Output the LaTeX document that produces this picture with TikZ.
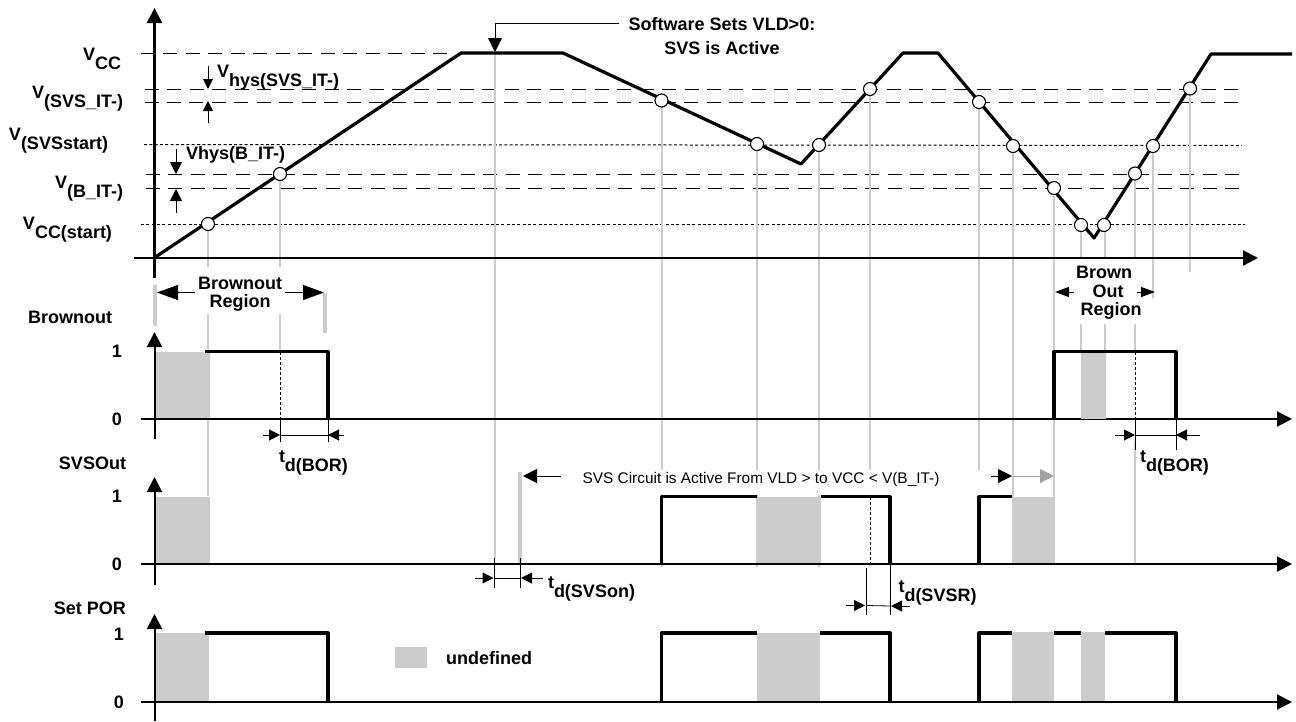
\documentclass[tikz,border=0pt]{standalone}
\usepackage{fontspec}
\setmainfont{Liberation Sans}
\usetikzlibrary{arrows.meta}
\definecolor{gr}{HTML}{CCCCCC}
\definecolor{grarrow}{HTML}{A0A0A0}
\tikzset{
 every node/.style={inner sep=0pt,outer sep=0pt},
 lab/.style={font=\fontsize{18}{21}\bfseries\selectfont},
 lv/.style={lab,anchor=base west},
 sig/.style={line width=3.2pt,line cap=butt,line join=round},
 curve/.style={line width=3.2pt,line join=round},
 guide/.style={gr,line width=2pt},
 guidet/.style={gr,line width=4pt},
 hdash/.style={line width=1pt,dash pattern=on 14pt off 8.48pt},
 hdot/.style={line width=1pt,dash pattern=on 3pt off 2.3pt},
 vdot/.style={line width=1pt,dash pattern=on 3pt off 2pt},
 bigtip/.style={-{Triangle[length=21pt,width=15pt]},line width=1pt},
 axtip/.style={-{Triangle[length=15pt,width=15pt]},line width=2pt},
 midtip/.style={-{Triangle[length=14pt,width=14pt]},line width=1pt},
 brtip/.style={-{Triangle[length=14pt,width=10pt]},line width=1pt},
 hyA/.style={-{Triangle[length=10pt,width=10pt]},line width=1pt},
 hyB/.style={-{Triangle[length=12pt,width=12pt]},line width=1pt},
 smalltip/.style={-{Triangle[length=11pt,width=11pt]},line width=1pt},
 dot/.style={circle,draw,fill=white,line width=1.1pt,minimum size=13pt},
 undef/.style={fill=gr},
 tk/.style={line width=0.8pt},
}
\newcommand{\sgnl}[2]{#1\raisebox{-9pt}{#2}}
\begin{document}
\begin{tikzpicture}[x=1pt,y=-1pt]
\useasboundingbox (0,0) rectangle (1296,721);
% horizontal reference lines
\coordinate (c1a) at (141,53); \coordinate (c1b) at (447,53);
\draw[hdash] (c1a) -- (c1b);
\coordinate (c2a) at (145,89.5); \coordinate (c2b) at (1238,89.5);
\draw[hdash] (c2a) -- (c2b);
\coordinate (c3a) at (144.5,102); \coordinate (c3b) at (1238,102);
\draw[hdash] (c3a) -- (c3b);
\coordinate (c4a) at (144,144.5); \coordinate (c4b) at (1241.5,145.5);
\draw[hdot] (c4a) -- (c4b);
\coordinate (c5a) at (146,174.5); \coordinate (c5b) at (1240,174.5);
\draw[hdash] (c5a) -- (c5b);
\coordinate (c6a) at (146,188.5); \coordinate (c6b) at (1240,188.5);
\draw[hdash] (c6a) -- (c6b);
\coordinate (c7a) at (141,224); \coordinate (c7b) at (1245,224);
\draw[hdot] (c7a) -- (c7b);
% guides
\foreach \x/\a/\b in {208/224/267,280/174/267,1081/224/258,1105/224/258,1135/174/258,1153/146/298,1190/89/272}
  \draw[guide] (\x,\a) -- (\x,\b);
\foreach \x/\a/\b in {208/314/496,280/314/352,495/53/558,661.5/100/567,757/144/567,819/144/567,870/89/497,979/102/497,1013/146/497,1054/188/564,1081/324/352,1105/324/352,1135/324/352,1135/441/564}
  \draw[guide] (\x,\a) -- (\x,\b);
\draw[guidet] (154.7,285) -- (154.7,326);
\draw[guidet] (324.5,293) -- (324.5,333);
\draw[guidet] (520,472) -- (520,564);
% undefined fills
\fill[undef] (155,351.7) rectangle (210,419);
\fill[undef] (155,496.7) rectangle (210,564);
\fill[undef] (155,633) rectangle (209,702);
\fill[undef] (757,496.7) rectangle (821,564);
\fill[undef] (1012,496.7) rectangle (1055,564);
\fill[undef] (757,633) rectangle (820,702);
\fill[undef] (1012,632) rectangle (1054,702);
\fill[undef] (1081,632) rectangle (1105,702);
\fill[undef] (395,647) rectangle (427,668);
% white text panel
\fill[white] (562,470) rectangle (990,495);
% axes
\coordinate (y0a) at (154.5,278); \coordinate (y0b) at (154.5,8);
\draw[axtip,line width=2.4pt] (y0a) -- (y0b);
\coordinate (x0a) at (134,258); \coordinate (x0b) at (1258,258);
\draw[axtip,line width=2.4pt] (x0a) -- (x0b);
\fill[white] (1074,259.5) rectangle (1137,324);
\foreach \n/\t/\b/\z in {a/332/439/419,b/477/585/564,c/614/721/702}{
  \coordinate (ya\n) at (154.5,\b); \coordinate (yb\n) at (154.5,\t);
  \draw[axtip] (ya\n) -- (yb\n);
  \coordinate (xa\n) at (141,\z); \coordinate (xb\n) at (1292,\z);
  \draw[axtip] (xa\n) -- (xb\n);
}
% main curve
\draw[curve] (154,258) -- (461,53) -- (563,53) -- (801,164) -- (903,53) -- (938,53) -- (1094,238) -- (1211,54) -- (1292,54);
\foreach \i/\x/\y in {1/208/224,2/280/174,3/661.5/100.5,4/757/144,5/819/145,6/870/89,7/979/102,8/1013/146,9/1054/188,10/1081/225,11/1104/225,12/1135/173.5,13/1153/146,14/1190/88.5}
  \node[dot] (p\i) at (\x,\y) {};
% signals
\draw[sig] (205,351.7) -- (328,351.7) -- (328,419);
\fill[undef] (1081,353.3) rectangle (1106,419);
\draw[sig] (1054,419) -- (1054,351.7) -- (1176,351.7) -- (1176,419);
\draw[sig] (661.5,564) -- (661.5,496.7) -- (757,496.7);
\draw[sig] (821,496.7) -- (890,496.7) -- (890,564);
\draw[sig] (979,564) -- (979,496.7) -- (1012,496.7);
\draw[sig] (205,633) -- (328,633) -- (328,702);
\draw[sig] (661.5,702) -- (661.5,633) -- (757,633);
\draw[sig] (820,633) -- (890,633) -- (890,702);
\draw[sig] (979,702) -- (979,633) -- (1012,633);
\draw[sig] (1054,633) -- (1081,633);
\draw[sig] (1105,633) -- (1176,633) -- (1176,702);
% dotted drops
\draw[vdot] (280,352) -- (280,419);
\draw[vdot] (1135,352) -- (1135,419);
\draw[vdot] (870,497) -- (870,564);
% brownout region arrows
\coordinate (r1a) at (195,292.5); \coordinate (r1b) at (157,292.5);
\draw[bigtip] (r1a) -- (r1b);
\coordinate (r2a) at (285,292.5); \coordinate (r2b) at (324,292.5);
\draw[bigtip] (r2a) -- (r2b);
\coordinate (r3a) at (1074,292); \coordinate (r3b) at (1055,292);
\draw[brtip] (r3a) -- (r3b);
\coordinate (r4a) at (1137,292); \coordinate (r4b) at (1155,292);
\draw[brtip] (r4a) -- (r4b);
% hysteresis arrows
\coordinate (h1a) at (208,66); \coordinate (h1b) at (208,89);
\draw[hyA] (h1a) -- (h1b);
\coordinate (h2a) at (208,123); \coordinate (h2b) at (208,101);
\draw[hyA] (h2a) -- (h2b);
\coordinate (h3a) at (176,149); \coordinate (h3b) at (176,174);
\draw[hyB] (h3a) -- (h3b);
\coordinate (h4a) at (176,213); \coordinate (h4b) at (176,189);
\draw[hyB] (h4a) -- (h4b);
% timing dimension: BOR
\foreach \n/\l/\r/\e/\f/\bt in {u/280/328/263/344/441.7,v/1135/1176/1115/1200/450}{
  \coordinate (\n t1) at (\l,419); \coordinate (\n t2) at (\l,\bt);
  \coordinate (\n t3) at (\r,419); \coordinate (\n t4) at (\r,\bt);
  \draw[tk] (\n t1) -- (\n t2); \draw[tk] (\n t3) -- (\n t4);
  \draw[tk] (\l,435) -- (\r,435);
  \draw[smalltip] (\e,435) -- (\l,435);
  \draw[smalltip] (\f,435) -- (\r,435);
}
% timing dimension: SVSon
\draw[tk] (494.5,558) -- (494.5,588); \draw[tk] (520,558) -- (520,588);
\draw[tk] (494.5,578) -- (520,578);
\draw[smalltip] (475,578) -- (493.5,578);
\draw[smalltip] (543,578) -- (521,578);
% timing dimension: SVSR
\draw[tk] (866,568) -- (866,615); \draw[tk] (890.5,564) -- (890.5,615);
\draw[tk] (866,605.5) -- (890.5,606);
\draw[smalltip] (846,605.5) -- (865,605.5);
\draw[smalltip] (910,606) -- (891,606);
% SVS circuit arrows
\coordinate (s1c) at (561,476); \coordinate (s1d) at (523,476);
\draw[midtip] (s1c) -- (s1d);
\coordinate (s2a) at (991,476); \coordinate (s2b) at (1012,476);
\draw[midtip] (s2a) -- (s2b);
\coordinate (s3a) at (1013,476); \coordinate (s3b) at (1054,476);
\draw[midtip,grarrow] (s3a) -- (s3b);
% software arrow
\coordinate (sw0) at (619,23); \coordinate (sw1) at (495,23); \coordinate (sw2) at (495,52);
\draw[midtip] (sw0) -- (sw1) -- (sw2);
% labels
\node[lab] (tsw1) at (722,24.5) {Software Sets VLD>0:};
\node[lab] (tsw2) at (722,48) {SVS is Active};
\node[lv] (l1) at (83,60.5) {\sgnl{V}{CC}};
\node[lv] (l2) at (32,98) {\sgnl{V}{(SVS\_IT-)}};
\node[lv] (l3) at (9,140.5) {\sgnl{V}{(SVSstart)}};
\node[lv] (l4) at (55,188) {\sgnl{V}{(B\_IT-)}};
\node[lv] (l5) at (23,229.5) {\sgnl{V}{CC(start)}};
\node[lv] (l6) at (217,77) {\sgnl{V}{hys(SVS\_IT-)}};
\node[lv] (l7) at (186,159) {Vhys(B\_IT-)};
\node[lab] (b1) at (240,283) {Brownout};
\node[lab] (b2) at (240,303) {Region};
\node[lab] (b3) at (1104,272) {Brown};
\node[lab] (b4) at (1108,291) {Out};
\node[lab] (b5) at (1111,311) {Region};
\node[lab,anchor=east] (n1) at (112,317.5) {Brownout};
\node[lab,anchor=east] (n2) at (126,463) {SVSOut};
\node[lab,anchor=east] (n3) at (126,608) {Set POR};
\foreach \i/\x/\y/\t in {a/117/351/1,b/117/419/0,c/117/496/1,d/117/564/0,e/119/634/1,f/119/702/0}
  \node[lab] (v\i) at (\x,\y) {\t};
\node[lv] (t1) at (279,462.5) {\sgnl{t}{d(BOR)}};
\node[lv] (t2) at (1140,462.5) {\sgnl{t}{d(BOR)}};
\node[lv] (t3) at (548,588) {\sgnl{t}{d(SVSon)}};
\node[lv] (t4) at (898.5,592) {\sgnl{t}{d(SVSR)}};
\node[font=\fontsize{15.4}{18}\selectfont] (sv) at (761,480) {SVS Circuit is Active From VLD > to VCC < V(B\_IT-)};
\node[lab] (u) at (489,658) {undefined};
\end{tikzpicture}
\end{document}
